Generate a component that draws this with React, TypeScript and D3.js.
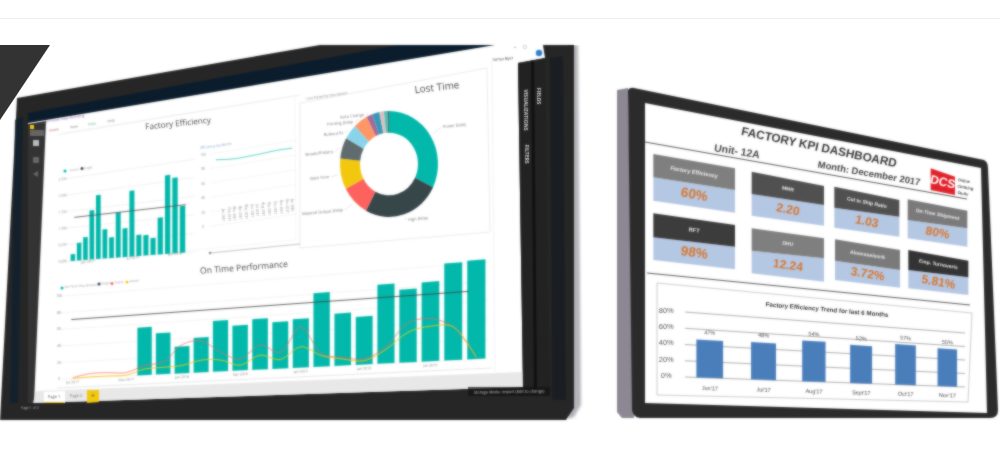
import React from 'react';
import * as d3 from 'd3';

type P = [number, number];
type Q = [P, P, P, P];

// ---- data ----
const smallBarValues = [8, 21, 27, 58, 75, 34, 24, 52, 33, 75, 24, 23, 19, 41, 87, 83, 51];
const smallTarget = [52, 52];
const smallTicks = [0, 20, 40, 60, 80, 100];
const smallTickLabels = ['0.0M', '0.5M', '1.0M', '1.5M', '2.0M', '2.5M'];
const trendValues = [91, 89, 88, 88.5, 89, 90, 90.5, 90];
const trendTicks = [0, 20, 40, 60, 80, 100];
const trendDates = ['Jan 2017', 'Feb 2017', 'Mar 2017', 'Apr 2017', 'May 2017', 'Jun 2017', 'Jul 2017', 'Aug 2017', 'Sep 2017', 'Oct 2017', 'Nov 2017', 'Dec 2017', 'Jan 2018'];
const perfBars: (number | null)[] = [null, null, null, null, 56, 48, 31, 40, 58, 51, 57, 52, 54, 81, 57, 52, 85, 78, 84, 102, 103];
const perfRed = [1, 5, 5, 4, 11.5, 14, 33, 36, 22, 13, 27.5, 18, 45, 14, 9, 6, 18, 42, 45, 35, 1.5];
const perfYellow = [0, 1, 1, 1, 7, 8, 9, 14, 13, 6, 16, 10, 23, 12, 7, 4, 15, 32, 37, 35, 1.5];
const perfTarget = [71, 71];
const perfTicks = [0, 20, 40, 60, 80, 100];
const perfDates = ['Jul 2017', 'Mar 2017', 'Jan 2018', 'Sep 2018', 'Jan 2019', 'Jan 2019', 'Jan 2019'];
const donutValues = [116, 92, 34, 34, 23, 17, 17, 7, 8.6, 5.4, 4, 2];
const donutColors = ['#01B8AA', '#374649', '#FD625E', '#F2C80F', '#5F6B6D', '#8AD4EB', '#FE9666', '#A66999', '#3599B8', '#DFBFBF', '#4AC5BB', '#5F6B6D'];
const donutNames = ['Power Delay', 'High Delay', 'Material Output Delay', 'Date Time', 'Breakoff Maint', 'Bulkout fit', 'Printing Delay', 'Auto Change'];
const kpiNames = ['Factory Efficiency', 'MMR', 'Cut to Ship Ratio', 'On-Time Shipment', 'RFT', 'DHU', 'Absenteeism%', 'Emp. Turnover%'];
const kpiValues = ['60%', '2.20', '1.03', '80%', '98%', '12.24', '3.72%', '5.81%'];
const trendMonths = ["Jun'17", "Jul'17", "Aug'17", "Sept'17", "Oct'17", "Nov'17"];
const effValues = [47, 48, 54, 52, 57, 55];
const effTicks = [0, 20, 40, 60, 80];

// ---- layout ----
const kpiHeaderFill = ['#7f7f7f', '#505050', '#505050', '#7a7a7a', '#3c3c3c', '#7f7f7f', '#7a7a7a', '#333333'];
const kpiBoxes = [
  [130, 375, 222, 265, 292, 330, 362, 398],
  [425, 642, 275, 318, 342, 375, 407, 437],
  [673, 868, 320, 360, 383, 410, 443, 470],
  [893, 1072, 358, 392, 420, 445, 475, 500],
  [130, 375, 400, 435, 472, 500, 540, 568],
  [425, 642, 445, 475, 512, 535, 580, 605],
  [675, 870, 478, 510, 542, 570, 600, 623],
  [895, 1075, 510, 542, 570, 592, 625, 645],
];
const donutLabelPos: [number, number, string][] = [
  [443, 127, 'start'], [408, 220, 'start'], [343, 210, 'end'], [329, 177, 'end'],
  [333, 152, 'end'], [343, 133, 'end'], [353, 122, 'end'], [364, 115, 'end'],
];

function quad(q: Q) {
  const [[x0, y0], [x1, y1], [x2, y2], [x3, y3]] = q;
  const dx1 = x1 - x2, dx2 = x3 - x2, sx = x0 - x1 + x2 - x3;
  const dy1 = y1 - y2, dy2 = y3 - y2, sy = y0 - y1 + y2 - y3;
  const den = dx1 * dy2 - dx2 * dy1;
  const g = (sx * dy2 - dx2 * sy) / den;
  const h = (dx1 * sy - sx * dy1) / den;
  const a = x1 - x0 + g * x1, b = x3 - x0 + h * x3;
  const d = y1 - y0 + g * y1, e = y3 - y0 + h * y3;
  return (u: number, v: number): P => {
    const w = g * u + h * v + 1;
    return [(a * u + b * v + x0) / w, (d * u + e * v + y0) / w];
  };
}
const poly = (pts: P[]) => 'M' + pts.map(p => p[0].toFixed(2) + ',' + p[1].toFixed(2)).join('L') + 'Z';
const seg = (pts: P[]) => 'M' + pts.map(p => p[0].toFixed(2) + ',' + p[1].toFixed(2)).join('L');

const T = ({ x, y, r = 0, s = 6, f = '#666', w = 400, a = 'middle', ff = 'Open Sans, sans-serif', children }: any) => (
  <text transform={`translate(${x},${y}) rotate(${r})`} fontSize={s} fill={f} fontWeight={w} textAnchor={a} fontFamily={ff} dominantBaseline="middle">{children}</text>
);

const TEAL = '#01B8AA';

function BarPanel({ m, band, y, values, color }: any) {
  return <g>{values.map((v: number | null, i: number) => {
    if (v == null) return null;
    const u0 = band(i) as number, u1 = u0 + band.bandwidth();
    return <path key={i} d={poly([m(u0, y(v)), m(u1, y(v)), m(u1, y(0)), m(u0, y(0))])} fill={color} />;
  })}</g>;
}

export default function App() {
  const smM = quad([[70, 178], [186, 160.5], [186, 252.5], [70, 261]]);
  const smB = d3.scaleBand<number>().domain(smallBarValues.map((_, i) => i)).range([0, 1]).paddingInner(0.28).paddingOuter(0.1);
  const smY = d3.scaleLinear().domain([0, 100]).range([1, 0]);
  const trM = quad([[205, 155], [297, 140], [297, 214], [205, 227]]);
  const trX = d3.scalePoint<number>().domain(trendValues.map((_, i) => i)).range([0.12, 0.95]);
  const trY = d3.scaleLinear().domain([0, 100]).range([1, 0]);
  const trD = d3.scalePoint<number>().domain(trendDates.map((_, i) => i)).range([0.2, 0.95]);
  const pfM = quad([[64, 296], [488, 262], [488, 358.5], [64, 379]]);
  const pfB = d3.scaleBand<number>().domain(perfBars.map((_, i) => i)).range([0, 1]).paddingInner(0.22).paddingOuter(0.11);
  const pfY = d3.scaleLinear().domain([0, 100]).range([1, 0]);
  const pfC = (i: number) => (pfB(i) as number) + pfB.bandwidth() / 2;
  const pfLine = d3.line<number>().x((v, i) => pfM(pfC(i), pfY(v))[0]).y((v, i) => pfM(pfC(i), pfY(v))[1]).curve(d3.curveCatmullRom);
  const pie = d3.pie<number>().sort(null).value(d => d);
  const arcs = pie(donutValues);
  const arc = d3.arc<d3.PieArcDatum<number>>().innerRadius(29).outerRadius(49);
  const outer = d3.arc<d3.PieArcDatum<number>>().innerRadius(52).outerRadius(52);
  const efM = quad([[685, 312], [965, 333], [965, 387], [685, 377]]);
  const efB = d3.scaleBand<string>().domain(trendMonths).range([0, 1]).paddingInner(0.52).paddingOuter(0.2);
  const efY = d3.scaleLinear().domain([0, 80]).range([1, 0]);

  const zx = (x: number) => 610 + x / 3, zy = (y: number) => 80 + y / 3;

  return (
    <svg width={1000} height={470} style={{ position: 'absolute', left: 0, top: 0 }}>
      <defs>
        <filter id="soft" x="0" y="0" width="1000" height="470" filterUnits="userSpaceOnUse" colorInterpolationFilters="sRGB">
          <feGaussianBlur in="SourceGraphic" stdDeviation="0.95" result="b" />
          <feComposite in="SourceGraphic" in2="b" operator="arithmetic" k1="0" k2="0.35" k3="0.65" k4="0" />
        </filter>
        <filter id="softer" x="0" y="0" width="1000" height="470" filterUnits="userSpaceOnUse"><feGaussianBlur stdDeviation="1.8" /></filter>
        <clipPath id="leftClip"><rect x={0} y={45} width={600} height={375} /></clipPath>
      </defs>
      <rect width={1000} height={470} fill="#fff" />
      <rect x={0} y={18} width={1000} height={1} fill="#ececec" />
      <path d="M574,45L578,45L581,405L574,417L568,419L568,45Z" fill="#b5b3b8" filter="url(#softer)" clipPath="url(#leftClip)" />
      <g filter="url(#soft)">
        <g clipPath="url(#leftClip)">
          <path d="M17,98L320,45L574,45L574,408L566,420L0,420Z" fill="#262626" />
          <path d="M15,120L23,116L18,403L10,403Z" fill="#0f2030" opacity={0.8} />
          <path d="M28,113L398,45L500,45L28,123Z" fill="#0b1c2c" />
          <path d="M28,123L495,45L543,45L545,58L518,63L523,387L33,403Z" fill="#fff" />
          <path d="M28,124L46,121L34,403L28,403Z" fill="#333" />
          <path d="M36,391L523,372L523,387L33,403Z" fill="#e8e8e8" />
          <path d="M518,63L545,58L550,390L523,388Z" fill="#222" />
          <path d="M531,61L534,60L537,389L534,389Z" fill="#111" />
          <path d="M550,58L563,56L566,400L552,400Z" fill="#1a1e22" />
          <rect x={30} y={125} width={4} height={4} fill="#F2C80F" />
          <rect x={30} y={130} width={14} height={6} fill="#666" />
          <rect x={33} y={140} width={6} height={6} fill="#bbb" />
          <rect x={33} y={157} width={6} height={6} fill="#666" />
          <path d="M33,174L38,171L38,177Z" fill="#666" />
          <T x={64} y={119} r={-9} s={3.5} f="#8a6aa8">File  Home  View  Modeling</T>
          <T x={54} y={130} r={-9} s={3.5} f="#a55">Home</T>
          <T x={74} y={127} r={-9} s={3.5} f="#777">View</T>
          <T x={92} y={124} r={-9} s={3.5} f="#6a9">Data</T>
          <T x={111} y={121} r={-9} s={3.5} f="#777">Help</T>
          <T x={503} y={59} r={-5} s={4} f="#444">Sonya Byer</T>
          <circle cx={539} cy={53} r={3.2} fill="#2a80d0" />
          <T x={515} y={47} s={4} f="#555">–</T>
          <T x={525} y={47} s={4} f="#555">▢</T>
          <T x={525} y={110} r={90} s={5} f="#ddd" w={700}>VISUALIZATIONS</T>
          <T x={526} y={154} r={90} s={5} f="#ddd" w={700}>FILTERS</T>
          <T x={538} y={96} r={90} s={5} f="#ddd" w={700}>FIELDS</T>
          <rect x={468} y={387} width={82} height={9} fill="#111" opacity={0.7} />
          <T x={509} y={392} r={-1} s={4} f="#ccc">Storage Mode: Import (Edit to change)</T>
          <T x={30} y={408} r={-1} s={3.5} f="#bbb">Page 1 of 2</T>
          <path d="M44,392L65,391L65,403L44,403Z" fill="#fff" />
          <rect x={44} y={402} width={20} height={1} fill="#F2C80F" />
          <T x={54} y={397} r={-1} s={4} f="#555">Page 1</T>
          <T x={76} y={396} r={-1} s={4} f="#777">Page 2</T>
          <path d="M87,390L99,390L99,402L87,403Z" fill="#F2C80F" />
          <T x={93} y={396} s={7} f="#555">+</T>

          <path d="M62,133L295,96L296,240L62,263" fill="none" stroke="#f0f0f0" strokeWidth={0.6} />
          <path d="M300,103L487,68L490,232L300,248Z" fill="none" stroke="#e4e4e4" strokeWidth={0.7} />
          <path d="M57,135L300,95" fill="none" stroke="#e6e6e6" strokeWidth={0.6} />
          <path d="M492,60L495,372" fill="none" stroke="#eee" strokeWidth={0.7} />
          <path d="M57,388L492,368" fill="none" stroke="#ddd" strokeWidth={0.7} />

          <T x={178} y={124} r={-6} s={8.2} f="#4a4a4a">Factory Efficiency</T>
          <T x={437} y={88} r={-6.5} s={10} f="#4a4a4a">Lost Time</T>
          <T x={244} y={268} r={-4.5} s={8.6} f="#4a4a4a">On Time Performance</T>

          {smallTicks.map((t, i) => (
            <g key={t}>
              <path d={seg([smM(-0.02, smY(t)), smM(1.07, smY(t))])} stroke="#e8e8e8" strokeWidth={0.6} fill="none" />
              <T x={smM(-0.07, smY(t))[0]} y={smM(-0.07, smY(t))[1]} s={3.5} f="#888" r={-7}>{smallTickLabels[i]}</T>
            </g>
          ))}
          <circle cx={65} cy={171} r={1.5} fill={TEAL} />
          <circle cx={82} cy={168.5} r={1.5} fill="#374649" />
          <T x={74} y={170} r={-7} s={3} f="#999">Actual</T>
          <T x={88} y={168} r={-7} s={3} f="#999">Target</T>
          <BarPanel m={smM} band={smB} y={smY} values={smallBarValues} color={TEAL} />
          <path d={seg([smM(0.04, smY(smallTarget[0])), smM(1, smY(smallTarget[1]))])} stroke="#555" strokeWidth={1} fill="none" opacity={0.85} />
          <T x={88} y={262} r={-5} s={3.5} f="#888">Jan 2017</T>
          <T x={133} y={258} r={-5} s={3.5} f="#888">Jul 2017</T>
          <T x={175} y={254} r={-5} s={3.5} f="#888">Jan 2018</T>

          <T x={216} y={146} r={-8} s={3.5} f="#7fa6c8">Efficiency by Month</T>
          {trendTicks.map(t => (
            <g key={t}>
              <path d={seg([trM(0.06, trY(t)), trM(1, trY(t))])} stroke="#eeeeee" strokeWidth={0.6} fill="none" />
              <T x={trM(-0.02, trY(t))[0]} y={trM(-0.02, trY(t))[1]} s={3} f="#888">{t}</T>
            </g>
          ))}
          <path d={d3.line<number>().x((v, i) => trM(trX(i) as number, trY(v))[0]).y((v, i) => trM(trX(i) as number, trY(v))[1])(trendValues) || ''} stroke={TEAL} strokeWidth={0.9} fill="none" opacity={0.7} />
          {trendDates.map((d, i) => {
            const p = trM(trD(i) as number, 0.87);
            return <T key={d} x={p[0]} y={p[1]} r={90} s={3.2} f="#999">{d}</T>;
          })}
          <path d="M210,253L300,244" stroke="#aaa" strokeWidth={0.7} fill="none" />
          <circle cx={210} cy={253} r={1.2} fill="#888" />

          <T x={327} y={96} r={-8} s={3.5} f="#888">Lost Detail by Description</T>
          <g transform="translate(389,164) scale(1,1.08)">
            {arcs.map((a, i) => <path key={i} d={arc(a) || ''} fill={donutColors[i]} />)}
          </g>
          {donutNames.map((n, i) => {
            const c = outer.centroid(arcs[i]);
            const [lx, ly, an] = donutLabelPos[i];
            const px = 389 + c[0], py = 164 + c[1] * 1.08;
            const gap = an === 'start' ? -2 : 2;
            return (
              <g key={n}>
                <path d={seg([[px, py], [lx + gap, ly]])} stroke="#ccc" strokeWidth={0.5} fill="none" />
                <T x={lx} y={ly} r={-6} s={4} f="#777" a={an}>{n}</T>
              </g>
            );
          })}

          {perfTicks.map(t => (
            <g key={t}>
              <path d={seg([pfM(-0.01, pfY(t)), pfM(1, pfY(t))])} stroke="#ededed" strokeWidth={0.6} fill="none" />
              <T x={pfM(-0.014, pfY(t))[0]} y={pfM(-0.014, pfY(t))[1]} s={3.5} f="#888">{t}</T>
            </g>
          ))}
          {[[62, 288, TEAL], [99, 284, '#374649'], [112, 283.5, '#FD625E'], [127, 282, '#F2C80F']].map(([x, y, c]: any) => (
            <circle key={c} cx={x} cy={y} r={1.5} fill={c} />
          ))}
          <T x={81} y={286} r={-4} s={3.2} f="#999">On Time Ship Amount</T>
          <T x={105} y={283.5} r={-4} s={3.2} f="#999">Target</T>
          <T x={119} y={282.5} r={-4} s={3.2} f="#999">Trend</T>
          <T x={134} y={281} r={-4} s={3.2} f="#999">Actual</T>
          <BarPanel m={pfM} band={pfB} y={pfY} values={perfBars} color={TEAL} />
          <path d={seg([pfM(0.02, pfY(perfTarget[0])), pfM(0.96, pfY(perfTarget[1]))])} stroke="#444" strokeWidth={1} fill="none" opacity={0.85} />
          <path d={pfLine(perfRed) || ''} stroke="#FD625E" strokeWidth={1} fill="none" opacity={0.7} />
          <path d={pfLine(perfYellow) || ''} stroke="#F2C80F" strokeWidth={1} fill="none" opacity={0.9} />
          {perfDates.map((d, i) => {
            const p = pfM(pfC(i * 3), 1.045);
            return <T key={i} x={p[0]} y={p[1]} r={-3} s={3.5} f="#888">{d}</T>;
          })}
        </g>

        <path d="M617,90L628,88L634,418L622,418L617,412Z" fill="#8c8792" />
        <path d="M628,90Q630,87 634,88L984,160Q988,162 988,168L998,410Q998,418 990,418L640,418Q633,417 632,410Z" fill="#2b2b2b" />
        <path d="M645,103L981,168L987,413L645,403Z" fill="#fff" />
        <T x={819} y={148} r={11.8} s={11.8} f="#333" w={700} ff="Liberation Sans, sans-serif">FACTORY KPI DASHBOARD</T>
        <T x={737} y={152} r={9} s={10.5} f="#444" w={700} ff="Liberation Sans, sans-serif">Unit- 12A</T>
        <T x={869} y={174} r={10} s={9.5} f="#444" w={700} ff="Liberation Sans, sans-serif">Month: December 2017</T>
        <path d="M645,142L967,199" stroke="#444" strokeWidth={0.9} fill="none" />
        <path d="M647,273L970,305" stroke="#444" strokeWidth={0.9} fill="none" />
        <path d={poly([[zx(962), zy(265)], [zx(1035), zy(290)], [zx(1035), zy(345)], [zx(962), zy(330)]])} fill="#e2202a" />
        <T x={zx(998)} y={zy(308)} r={14} s={12} f="#fff" w={700} ff="Liberation Sans, sans-serif">DCS</T>
        <T x={zx(1043)} y={zy(300)} r={10} s={4} f="#444" w={700} a="start" ff="Liberation Sans, sans-serif">Online</T>
        <T x={zx(1042)} y={zy(319)} r={10} s={4} f="#444" w={700} a="start" ff="Liberation Sans, sans-serif">Clothing</T>
        <T x={zx(1042)} y={zy(338)} r={10} s={4} f="#444" w={700} a="start" ff="Liberation Sans, sans-serif">Study</T>

        {kpiBoxes.map((b, i) => {
          const [x0, x1, tl, tr, sl, sr, bl, br] = b;
          const X0 = zx(x0), X1 = zx(x1);
          const rot = Math.atan2(zy(tr) - zy(tl), X1 - X0) * 180 / Math.PI;
          const cx = (X0 + X1) / 2;
          const hy = zy((tl + tr + sl + sr) / 4);
          const by = zy((sl + sr + bl + br) / 4);
          const wide = X1 - X0;
          return (
            <g key={i}>
              <path d={poly([[X0, zy(sl)], [X1, zy(sr)], [X1, zy(br)], [X0, zy(bl)]])} fill="#b4c7e3" />
              <path d={poly([[X0, zy(tl)], [X1, zy(tr)], [X1, zy(sr)], [X0, zy(sl)]])} fill={kpiHeaderFill[i]} />
              <T x={cx} y={hy} r={rot} s={wide > 75 ? 5.6 : 5} f="#eee" w={700} ff="Liberation Sans, sans-serif">{kpiNames[i]}</T>
              <T x={cx} y={by} r={rot} s={wide > 75 ? 13.5 : 12} f="#D8742A" w={700} ff="Liberation Sans, sans-serif">{kpiValues[i]}</T>
            </g>
          );
        })}

        <path d="M657,283L972,313L968,402L657,395Z" fill="none" stroke="#aaa" strokeWidth={0.6} />
        <T x={827} y={310} r={5} s={6.2} f="#333" w={700} ff="Liberation Sans, sans-serif">Factory Efficiency Trend for last 6 Months</T>
        {effTicks.map(t => (
          <g key={t}>
            <path d={seg([efM(0, efY(t)), efM(1, efY(t))])} stroke="#777" strokeWidth={0.6} fill="none" />
            <T x={efM(-0.055, efY(t))[0]} y={efM(-0.055, efY(t))[1]} s={7.5} f="#555" ff="Liberation Sans, sans-serif">{t + '%'}</T>
          </g>
        ))}
        {effValues.map((v, i) => {
          const c = (efB(trendMonths[i]) as number) + efB.bandwidth() / 2;
          const u0 = efB(trendMonths[i]) as number, u1 = u0 + efB.bandwidth();
          const top = efM(c, efY(v + 9)), lab = efM(c, 1.17);
          return (
            <g key={i}>
              <path d={poly([efM(u0, efY(v)), efM(u1, efY(v)), efM(u1, efY(0)), efM(u0, efY(0))])} fill="#4a7ebb" />
              <T x={top[0]} y={top[1]} r={4} s={5.5} f="#444" ff="Liberation Sans, sans-serif">{v + '%'}</T>
              <T x={lab[0]} y={lab[1]} r={3} s={5.5} f="#444" ff="Liberation Sans, sans-serif">{trendMonths[i]}</T>
            </g>
          );
        })}
      </g>
      <path d="M0,45L50,45L0,120Z" fill="#333" />
    </svg>
  );
}
